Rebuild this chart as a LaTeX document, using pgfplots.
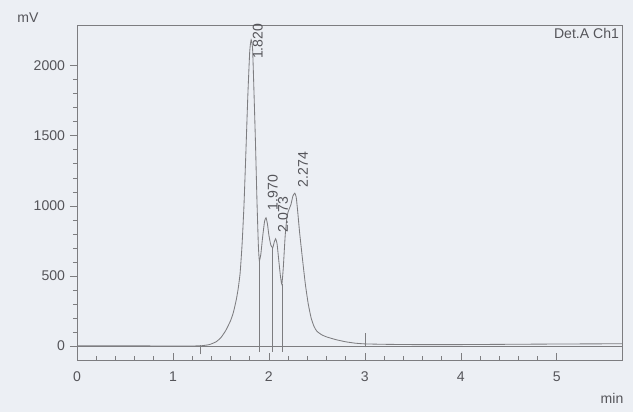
\documentclass[border=0pt]{standalone}
\usepackage{pgfplots}
\pgfplotsset{compat=1.18}
\usepackage{fontspec}
\setmainfont{Liberation Sans}
\definecolor{paper}{RGB}{236,239,244}
\definecolor{ink}{RGB}{125,125,128}
\definecolor{txt}{RGB}{85,85,90}

\begin{document}
\begin{tikzpicture}
\fill[paper] (0,0) rectangle (15.825cm,10.3cm);
\useasboundingbox (0,0) rectangle (15.825cm,10.3cm);
\begin{axis}[
  at={(1.925cm,1.3cm)}, anchor=south west,
  scale only axis, width=13.625cm, height=8.375cm,
  xmin=0, xmax=5.68, ymin=-100, ymax=2290,
  xtick={0,1,2,3,4,5}, ytick={0,500,1000,1500,2000},
  minor x tick num=4, minor y tick num=4,
  xtick pos=bottom, ytick pos=left,
  xtick align=inside, ytick align=outside,
  major tick length=5pt, minor tick length=3pt,
  axis line style={ink, line width=0.5pt},
  tick style={ink, line width=0.4pt},
  /pgf/number format/assume math mode=true,
  /pgf/number format/1000 sep={},
  tick label style={font=\fontsize{10}{12}\selectfont, text=txt},
  xticklabel style={yshift=-5pt},
  clip=false,
]
% zero line
\addplot[ink, line width=0.4pt] coordinates {(0,0) (5.68,0)};
% signal
\addplot[ink, line width=0.6pt, smooth, tension=0.3] coordinates {
(0,2)(0.5,1)(1.0,0)(1.2,0)(1.3,2)(1.38,10)(1.45,30)(1.5,60)(1.55,110)
(1.6,180)(1.63,240)(1.66,330)(1.68,410)(1.70,520)(1.72,720)(1.74,1000)
(1.76,1380)(1.78,1780)(1.80,2100)(1.815,2185)(1.83,2120)(1.845,1800)
(1.86,1450)(1.875,1050)(1.89,720)(1.90,610)(1.915,650)(1.935,780)
(1.955,890)(1.97,915)(1.985,870)(2.00,790)(2.02,720)(2.04,700)
(2.055,740)(2.07,765)(2.085,730)(2.10,630)(2.12,500)(2.135,440)
(2.15,560)(2.17,790)(2.19,930)(2.21,975)(2.23,1010)(2.25,1070)
(2.27,1090)(2.285,1060)(2.30,960)(2.32,810)(2.35,620)(2.38,440)
(2.41,300)(2.44,200)(2.47,140)(2.50,105)(2.55,80)(2.6,65)(2.7,45)
(2.8,30)(2.9,20)(3.0,15)(3.2,12)(3.5,10)(4.0,10)(4.5,12)(5.0,14)(5.68,16)
};
% drop lines at valleys
\addplot[ink, line width=0.4pt] coordinates {(1.90,610)(1.90,-40)};
\addplot[ink, line width=0.4pt] coordinates {(2.04,700)(2.04,-40)};
\addplot[ink, line width=0.4pt] coordinates {(2.135,440)(2.135,-40)};
% integration start / end marks
\addplot[ink, line width=0.4pt] coordinates {(1.29,-60)(1.29,10)};
\addplot[ink, line width=0.4pt] coordinates {(3.0,-10)(3.0,90)};
% peak labels
\node[rotate=90, anchor=west, inner sep=1pt, text=txt, font=\fontsize{10}{12}\selectfont] at (axis cs:1.885,2036) {1.820};
\node[rotate=90, anchor=west, inner sep=1pt, text=txt, font=\fontsize{10}{12}\selectfont] at (axis cs:2.04,957) {1.970};
\node[rotate=90, anchor=west, inner sep=1pt, text=txt, font=\fontsize{10}{12}\selectfont] at (axis cs:2.146,800) {2.073};
\node[rotate=90, anchor=west, inner sep=1pt, text=txt, font=\fontsize{10}{12}\selectfont] at (axis cs:2.354,1121) {2.274};
\node[anchor=north east, inner sep=2pt, text=txt, font=\fontsize{10}{12}\selectfont] at (rel axis cs:1,1) {Det.A Ch1};
\end{axis}
\node[text=txt, font=\fontsize{10}{12}\selectfont] at (0.7cm,9.85cm) {mV};
\node[text=txt, font=\fontsize{10}{12}\selectfont] at (15.3cm,0.35cm) {min};
\end{tikzpicture}
\end{document}
